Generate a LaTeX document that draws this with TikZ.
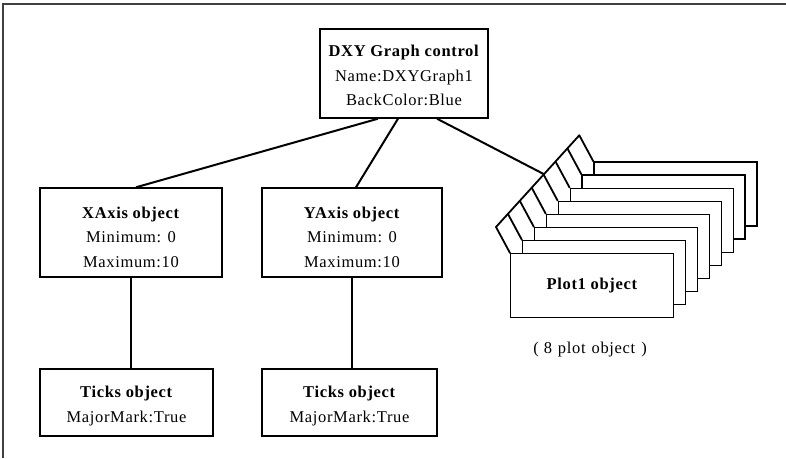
\documentclass[tikz,border=0pt]{standalone}
\usepackage{fontspec}
\setmainfont{Liberation Serif}[LetterSpace=4]
\newcommand{\lift}[1]{\rule{0pt}{#1}}
\begin{document}
\begin{tikzpicture}[x=1pt,y=-1pt,
  box/.style={draw, line width=1.4pt, fill=white, align=center, inner sep=0pt,
    font=\fontsize{16.5}{24.5}\selectfont},
  conn/.style={line width=2pt},
  fin/.style={line width=1.8pt, line cap=round, line join=round},
  frameline/.style={line width=2pt, draw=black!75}]
\useasboundingbox (0,0) rectangle (786,458);
\draw[frameline] (3,458) -- (3,4) -- (786,4);

\node[box, minimum width=168pt, minimum height=89pt] (dxy) at (404,73.5)
  {\lift{16pt}\textbf{DXY Graph control}\\Name:DXYGraph1\\BackColor:Blue};
\node[box, minimum width=182pt, minimum height=89pt] (xaxis) at (131,232.5)
  {\lift{21pt}\textbf{XAxis object}\\Minimum: 0\\Maximum:10};
\node[box, minimum width=180pt, minimum height=89pt] (yaxis) at (352,232.5)
  {\lift{21pt}\textbf{YAxis object}\\Minimum: 0\\Maximum:10};
\node[box, minimum width=173pt, minimum height=67pt] (ticksx) at (126.5,402.5)
  {\lift{18pt}\textbf{Ticks object}\\MajorMark:True};
\node[box, minimum width=175pt, minimum height=67pt] (ticksy) at (349.5,402.5)
  {\lift{18pt}\textbf{Ticks object}\\MajorMark:True};

% stack of plot objects, back to front
\foreach \k in {7,6,...,1}{
  \node[box, minimum width=163pt, minimum height=64pt, anchor=north west] (p\k)
    at ({510+11.9*\k},{253-13.1*\k}) {};
  \draw[fin] (p\k.north west) -- ++(-14,-26);
}
\node[box, minimum width=163pt, minimum height=64pt, anchor=north west] (plot1)
  at (510,253) {\textbf{Plot1 object}};
\draw[fin] (plot1.north west) -- ++(-14,-26) coordinate (spineA);
\coordinate (spineB) at (579.3,135.3);
\draw[fin] (spineA) -- (spineB);
\coordinate (hub) at (544,174.2);

\node[font=\fontsize{16.5}{18}\selectfont] (note) at (590,350)
  {(\hspace{5pt}8\hspace{6pt}plot\hspace{6pt}object\hspace{6pt})};

\draw[conn] ([xshift=-26pt]dxy.south) -- ([xshift=5pt]xaxis.north);
\draw[conn] ([xshift=-6pt]dxy.south) -- ([xshift=4pt]yaxis.north);
\draw[conn] ([xshift=33pt]dxy.south) -- (hub);
\draw[conn] (xaxis.south) -- (xaxis.south |- ticksx.north);
\draw[conn] (yaxis.south) -- (yaxis.south |- ticksy.north);
\end{tikzpicture}
\end{document}
